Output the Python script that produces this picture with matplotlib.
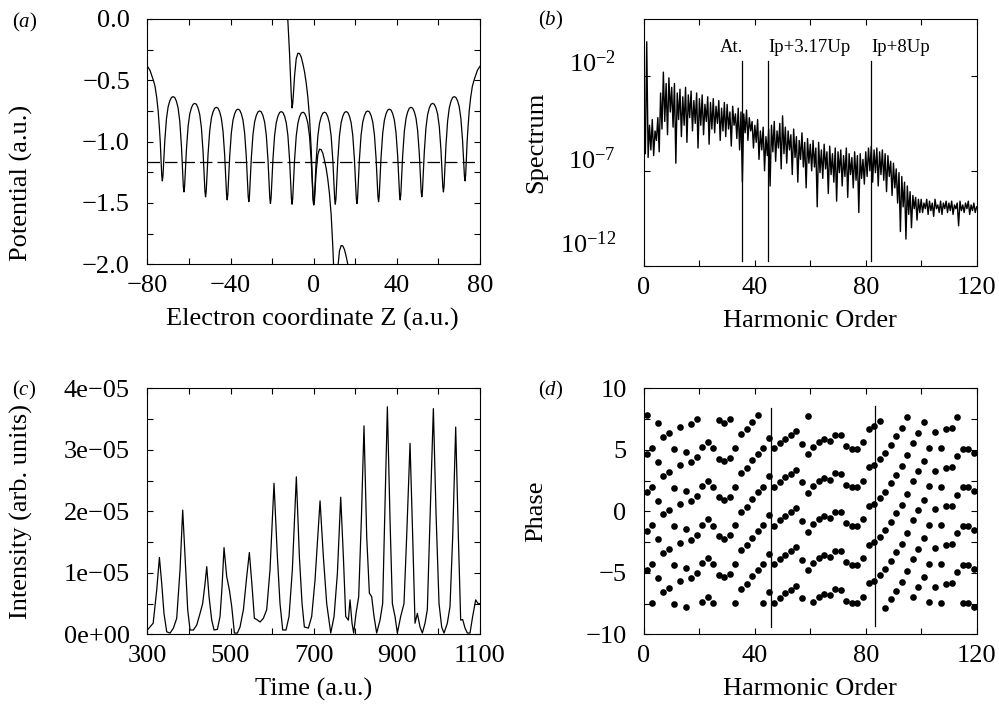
import numpy as np
import matplotlib.pyplot as plt
from matplotlib.ticker import MultipleLocator, FixedLocator, FixedFormatter
import matplotlib.transforms as mtransforms

plt.rcParams['font.family'] = 'Liberation Serif'
plt.rcParams['mathtext.fontset'] = 'custom'
plt.rcParams['mathtext.rm'] = 'Liberation Serif'
plt.rcParams['mathtext.it'] = 'Liberation Serif:italic'
plt.rcParams['font.size'] = 19

# ---------------- (a) potential ----------------
dip_z = [-72.8, -62.4, -52.0, -41.6, -31.2, -20.8, -10.4, 0.0,
         10.4, 20.8, 31.2, 41.6, 52.0, 62.4, 72.8]
dip_v = [-1.32, -1.41, -1.45, -1.475, -1.49, -1.505, -1.51, -1.515,
         -1.51, -1.505, -1.49, -1.475, -1.45, -1.41, -1.32]
peak_v = [-0.633, -0.688, -0.72, -0.735, -0.75, -0.755, -0.76,
          -0.76, -0.755, -0.75, -0.735, -0.72, -0.688, -0.633]
# shape of one arch, read from a central well (offset from dip, fraction of rise)
arch_u = [0.0, 0.3, 0.64, 1.2, 2.0, 2.8, 3.6, 4.4, 5.2]
arch_f = [0.0, 0.057, 0.21, 0.48, 0.74, 0.88, 0.95, 0.99, 1.0]
# outer flank of the end wells
edge_u = [0.0, 0.3, 0.6, 1.0, 1.4, 2.0, 2.7, 3.5, 4.3, 5.9, 7.2]
edge_v = [-1.32, -1.27, -1.16, -1.0, -0.89, -0.75, -0.64, -0.55, -0.50, -0.42, -0.385]

# chain in the field (tilted curve)
tilt_z = [-12.6, -12.4, -11.6, -11.04, -10.7, -10.4, -10.1, -9.76, -9.2, -8.4, -7.6,
          -6.8, -6.0, -5.2, -4.4, -3.6, -2.8, -2.0, -1.2, -0.64, -0.3, 0.0, 0.3,
          0.64, 1.2, 2.0, 2.8, 3.6, 4.4, 5.2, 6.0, 6.8, 7.6, 8.4, 9.2, 9.76, 10.4,
          11.04, 11.6, 12.4, 13.2, 14.0, 14.8, 15.6, 16.4, 17.2]
tilt_v = [0.03, -0.02, -0.284, -0.517, -0.647, -0.725, -0.692, -0.613, -0.465, -0.324,
          -0.279, -0.282, -0.31, -0.365, -0.431, -0.521, -0.639, -0.805, -1.062, -1.31,
          -1.45, -1.515, -1.496, -1.406, -1.244, -1.107, -1.061, -1.065, -1.095, -1.153,
          -1.218, -1.308, -1.427, -1.594, -1.855, -2.09, -2.3, -2.18, -2.03, -1.891,
          -1.847, -1.85, -1.88, -1.933, -2.0, -2.07]
bound_level = -1.17

# ---------------- (b) spectrum (log10), harmonic order step 0.5 ----------------
spec_log = [
    -5.8, -6.1, -0.2, -6.3, -4.6, -5.9, -4.3, -6.2, -4.9, -5.4, -4.2, -6.0, -2.9, -4.8, -1.8, -4.4, -2.4, -5.1, -2.1, -3.9,
    -2.6, -4.7, -2.4, -6.6, -2.9, -4.3, -2.7, -5.2, -3.1, -4.6, -2.6, -5.5, -3.0, -4.2, -2.8, -4.9, -3.3, -4.5, -2.9, -5.8,
    -3.2, -4.6, -3.0, -5.1, -3.5, -4.4, -3.1, -5.6, -3.4, -4.8, -3.2, -5.0, -3.6, -4.5, -3.3, -5.4, -3.7, -4.9, -3.4, -5.2,
    -3.5, -4.8, -3.9, -5.7, -3.6, -4.6, -4.0, -5.3, -3.7, -5.9, -3.9, -7.6, -4.0, -5.0, -3.8, -5.4, -4.2, -4.9, -4.4, -5.8,
    -4.6, -5.5, -4.3, -6.4, -4.9, -5.9, -4.7, -7.0, -5.2, -6.2, -4.8, -7.8, -4.6, -6.0, -4.4, -6.5, -4.9, -5.8, -4.5, -6.9,
    -4.1, -6.1, -4.7, -6.6, -4.9, -5.9, -5.1, -7.2, -4.8, -6.3, -5.2, -7.6, -5.4, -6.4, -5.0, -6.8, -5.5, -7.9, -5.3, -6.6,
    -5.6, -7.0, -5.4, -6.8, -5.8, -8.9, -5.5, -7.1, -5.9, -7.4, -5.6, -6.9, -6.0, -8.2, -5.7, -7.2, -6.1, -7.6, -5.8, -8.6,
    -6.0, -7.1, -5.9, -7.8, -6.2, -7.3, -5.8, -8.4, -6.1, -7.2, -6.3, -7.9, -6.0, -7.5, -6.2, -9.2, -6.1, -7.4, -6.4, -7.7,
    -6.0, -7.3, -5.8, -7.0, -5.7, -7.6, -5.9, -7.1, -5.8, -7.8, -6.0, -7.2, -5.9, -7.5, -6.1, -8.1, -6.2, -7.3, -6.5, -8.3,
    -6.6, -7.9, -6.9, -8.7, -7.1, -10.2, -7.3, -8.9, -7.6, -10.6, -7.8, -9.3, -8.1, -10.0, -8.3, -9.0, -8.4, -9.6, -8.5, -9.2,
    -8.5, -9.2, -8.7, -9.0, -8.5, -9.3, -8.6, -9.1, -8.7, -9.4, -8.5, -9.0, -8.8, -9.2, -8.6, -9.3, -8.7, -9.0, -8.6, -9.2,
    -8.7, -9.1, -8.6, -9.3, -8.8, -9.0, -8.7, -9.9, -8.6, -9.1, -8.8, -9.2, -8.7, -9.0, -8.6, -9.3, -8.8, -9.1, -8.7, -9.2,
    -8.9]
spec_step = 0.5
marker_orders = [35.2, 44.8, 82.0]
marker_names = ['At.', 'Ip+3.17Up', 'Ip+8Up']

# ---------------- (c) intensity (units of 1e-5) ----------------
time_au = [300, 314, 322.5, 329, 334.5, 340, 346.6, 354.6, 362.6, 370.6, 378.6, 385, 390.7, 397, 402.7,
           410.7, 418.7, 426.7, 433, 438.8, 442.8, 448.4, 454.8, 460.4, 468.4, 474.8, 479.6, 484.4,
           490.8, 497.3, 502.9, 509.3, 516.5, 522.9, 531, 539, 545.3, 551.8, 557.4, 563, 571, 579, 587,
           595, 604.6, 612.7, 619, 625.5, 633.5, 640.7, 648.7, 658.3, 665.6, 672, 677.6, 687.2, 695.2,
           703.2, 715.3, 723.3, 731.3, 741, 749, 757, 765, 771.4, 777, 783.4, 787.4, 792.2, 796.2, 801.8,
           808.2, 814.6, 821, 827.5, 833.9, 839.5, 845.1, 851.5, 859.5, 865.9, 871.6, 877.2, 883.6, 889.2,
           895.6, 901.2, 909.2, 917.2, 923.6, 931.7, 938.1, 943.7, 949.3, 955.7, 961.3, 967.7, 973.3,
           979.7, 987.8, 994.2, 1001.4, 1007.8, 1013.4, 1021.4, 1027.8, 1034.3, 1041.5, 1047.9, 1053.5,
           1058.3, 1064, 1069.5, 1075.9, 1082.3, 1089.6, 1095.2, 1100]
intensity = [0.07, 0.18, 0.72, 1.25, 0.83, 0.34, 0.04, 0.02, 0.1, 0.26, 1.05, 2.02, 1.26, 0.4, 0.07,
             0.07, 0.15, 0.34, 0.5, 0.83, 1.10, 0.61, 0.23, 0.07, 0.08, 0.29, 0.77, 1.41,
             0.94, 0.72, 0.45, 0.02, 0.02, 0.12, 0.4, 0.94, 1.33, 0.78, 0.26, 0.24, 0.2, 0.26, 0.4,
             1.05, 2.455, 1.26, 0.5, 0.07, 0.07, 0.29, 1.05, 2.56, 1.26, 0.5, 0.12, 0.1, 0.29,
             0.88, 2.17, 1.26, 0.5, 0.02, 0.29, 0.99, 2.23, 1.26, 0.29, 0.23, 0.56, 0.18, 0.02, 0.34,
             0.61, 1.86, 3.39, 1.59, 0.67, 0.61, 0.29, 0.02, 0.23, 0.5, 2.13, 3.70, 1.86, 0.5,
             0.29, 0.02, 0.29, 0.5, 1.59, 3.105, 1.59, 0.18, 0.34, 0.12, 0.02, 0.18, 0.4,
             1.86, 3.67, 1.97, 0.5, 0.12, 0.02, 0.18, 0.45, 1.59, 3.37, 1.59, 0.23,
             0.24, 0.1, 0.02, 0.02, 0.29, 0.56, 0.5, 0.5]

# ---------------- (d) phase of odd harmonics (one branch, defined modulo pi) ----------------
harm_odd = list(range(1, 120, 2))
phase = [1.55, 2.01, 0.87, 2.90, 3.23, 1.92, 0.60, 1.68, 0.84, 1.25,
         2.06, 2.49, 1.98, 1.14, 0.92, 1.19, 2.01, 3.12, 0.38, 1.00,
         1.55, 2.01, 2.85, 1.98, 2.41, 2.76, 3.06, 3.39, 2.36, 1.49,
         2.09, 2.49, 2.74, 2.58, 3.09, 3.06, 2.17, 1.95, 1.95, 2.49,
         3.58, 3.77, 1.08, 1.60, 2.28, 2.98, 3.66, 1.41, 2.44, 3.25,
         0.95, 2.03, 3.31, 2.01, 0.41, 0.46, 1.36, 1.95, 1.95, 1.63]
phase_branches = [-2, -1, 0, 1, 2]
phase_lines = [45.8, 83.4]


def style_axes(ax, ypad=12.5):
    ax.tick_params(which='both', direction='in', top=True, right=True,
                   length=4.5, width=0.8, labelsize=19)
    ax.tick_params(axis='x', pad=8)
    ax.tick_params(axis='y', pad=ypad)
    for s in ax.spines.values():
        s.set_linewidth(0.8)


fig = plt.figure(figsize=(9.99, 7.19), dpi=100)
ax_a = fig.add_axes([0.1475, 0.6324, 0.333, 0.3412])
ax_b = fig.add_axes([0.6446, 0.6305, 0.333, 0.3431])
ax_c = fig.add_axes([0.1475, 0.1178, 0.333, 0.3421])
ax_d = fig.add_axes([0.6446, 0.1178, 0.333, 0.3421])
lw = 0.9

# (a)
chain_z, chain_v = [], []
for zz, vv in zip(edge_u[::-1], edge_v[::-1]):
    chain_z.append(dip_z[0] - zz)
    chain_v.append(vv)
for i in range(len(dip_z) - 1):
    for u, f in zip(arch_u[1:], arch_f[1:]):
        chain_z.append(dip_z[i] + u)
        chain_v.append(dip_v[i] + f * (peak_v[i] - dip_v[i]))
    for u, f in zip(arch_u[-2::-1], arch_f[-2::-1]):
        chain_z.append(dip_z[i + 1] - u)
        chain_v.append(dip_v[i + 1] + f * (peak_v[i] - dip_v[i + 1]))
for zz, vv in zip(edge_u[1:], edge_v[1:]):
    chain_z.append(dip_z[-1] + zz)
    chain_v.append(vv)
ax_a.plot(chain_z, chain_v, color='black', lw=lw)
ax_a.plot(tilt_z, tilt_v, color='black', lw=lw)
ax_a.axhline(bound_level, color='black', lw=lw, dashes=(10, 4))
ax_a.set_xlim(-80, 80)
ax_a.set_ylim(-2.0, 0.0)
ax_a.set_xticks([-80, -40, 0, 40, 80])
ax_a.xaxis.set_minor_locator(MultipleLocator(20))
ax_a.set_yticks([-2.0, -1.5, -1.0, -0.5, 0.0])
ax_a.yaxis.set_minor_locator(MultipleLocator(0.25))
ax_a.set_yticklabels(['\u22122.0', '\u22121.5', '\u22121.0', '\u22120.5', '0.0'])
ax_a.set_xticklabels(['\u221280', '\u221240', '0', '40', '80'])
ax_a.set_xlabel('Electron coordinate Z (a.u.)', fontsize=19, va='center')
ax_a.set_ylabel('Potential (a.u.)', fontsize=19)
ax_a.xaxis.set_label_coords(0.495, -0.224)
ax_a.yaxis.set_label_coords(-0.345, 0.33)

# (b)
h_axis = np.arange(len(spec_log)) * spec_step
ax_b.semilogy(h_axis, 10.0 ** np.array(spec_log), color='black', lw=1.0)
ax_b.set_xlim(0, 120)
ax_b.set_ylim(1e-12, 1e1)
ax_b.set_xticks([0, 40, 80, 120])
ax_b.xaxis.set_minor_locator(MultipleLocator(20))
ax_b.yaxis.set_major_locator(FixedLocator([1e-12, 1e-7, 1e-2]))
ax_b.yaxis.set_major_formatter(FixedFormatter([r'$10^{-12}$', r'$10^{-7}$', r'$10^{-2}$']))
ax_b.yaxis.set_minor_locator(FixedLocator([]))
for xm, nm in zip(marker_orders, marker_names):
    ax_b.plot([xm, xm], [10 ** -11.75, 10 ** -1.2], color='black', lw=lw)
    ax_b.text(xm + 0.6 if nm == 'At.' else xm, 10 ** -0.95, nm,
              ha='right' if nm == 'At.' else 'left', va='bottom', fontsize=13.5)
ax_b.set_xlabel('Harmonic Order', fontsize=19, va='center')
ax_b.set_ylabel('Spectrum', fontsize=19)
ax_b.xaxis.set_label_coords(0.5, -0.224)
ax_b.yaxis.set_label_coords(-0.29, 0.5)

# (c)
ax_c.plot(time_au, np.array(intensity) * 1e-5, color='black', lw=lw)
ax_c.set_xlim(300, 1100)
ax_c.set_ylim(0, 4e-5)
ax_c.set_xticks([300, 500, 700, 900, 1100])
ax_c.xaxis.set_minor_locator(MultipleLocator(100))
ax_c.set_yticks([0, 1e-5, 2e-5, 3e-5, 4e-5])
ax_c.set_yticklabels(['0e+00', '1e\u221205', '2e\u221205', '3e\u221205', '4e\u221205'])
ax_c.yaxis.set_minor_locator(MultipleLocator(0.5e-5))
ax_c.set_xlabel('Time (a.u.)', fontsize=19, va='center')
ax_c.set_ylabel('Intensity (arb. units)', fontsize=19)
ax_c.xaxis.set_label_coords(0.5, -0.224)
ax_c.yaxis.set_label_coords(-0.345, 0.5)

# (d)
phase_arr = (np.array(phase) + np.pi / 2) % np.pi - np.pi / 2
for k in phase_branches:
    ax_d.plot(harm_odd, phase_arr + k * np.pi, 'o', color='black', ms=4.8, mec='none')
ax_d.plot([phase_lines[0]] * 2, [-9.4, 8.4], color='black', lw=lw)
ax_d.plot([phase_lines[1]] * 2, [-9.3, 8.6], color='black', lw=lw)
ax_d.set_xlim(0, 120)
ax_d.set_ylim(-10, 10)
ax_d.set_xticks([0, 40, 80, 120])
ax_d.xaxis.set_minor_locator(MultipleLocator(20))
ax_d.set_yticks([-10, -5, 0, 5, 10])
ax_d.set_yticklabels(['\u221210', '\u22125', '0', '5', '10'])
ax_d.yaxis.set_minor_locator(MultipleLocator(2.5))
ax_d.set_xlabel('Harmonic Order', fontsize=19, va='center')
ax_d.set_ylabel('Phase', fontsize=19)
ax_d.xaxis.set_label_coords(0.5, -0.224)
ax_d.yaxis.set_label_coords(-0.29, 0.5)

style_axes(ax_a)
style_axes(ax_b, ypad=20)
style_axes(ax_c)
style_axes(ax_d)
# log labels sit a little above their ticks, as in the original
for lab, up in zip(ax_b.get_yticklabels(), [24, 13, 15]):
    lab.set_transform(lab.get_transform() +
                      mtransforms.ScaledTranslation(0, up / 100, fig.dpi_scale_trans))

fig.text(12 / 999, 1 - 22 / 719, r'($\mathit{a}$)', fontsize=15, va='center')
fig.text(538 / 999, 1 - 20 / 719, r'($\mathit{b}$)', fontsize=15, va='center')
fig.text(12 / 999, 1 - 390 / 719, r'($\mathit{c}$)', fontsize=15, va='center')
fig.text(538 / 999, 1 - 390 / 719, r'($\mathit{d}$)', fontsize=15, va='center')

fig.savefig('out.png', dpi=100)
